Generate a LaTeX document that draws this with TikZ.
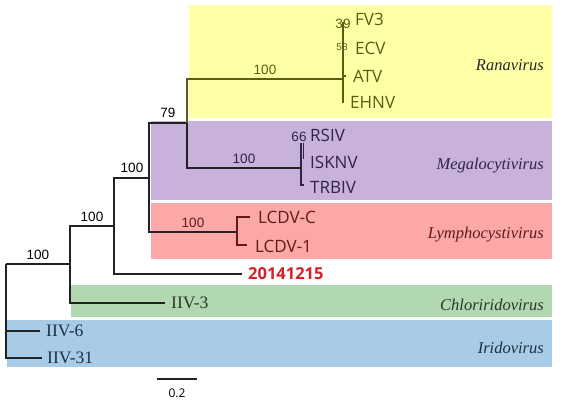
\documentclass[tikz,border=0pt]{standalone}
\usepackage{fontspec}
\setmainfont{Liberation Serif}
\newfontfamily\labfont{Open Sans}
\newfontfamily\numfont{Liberation Sans}
\definecolor{ybg}{RGB}{255,255,166}
\definecolor{pbg}{RGB}{200,178,220}
\definecolor{rbg}{RGB}{252,168,168}
\definecolor{gbg}{RGB}{178,216,178}
\definecolor{bbg}{RGB}{168,204,232}
\definecolor{yfg}{RGB}{92,92,20}
\definecolor{pfg}{RGB}{48,34,72}
\definecolor{rfg}{RGB}{100,24,24}
\definecolor{gfg}{RGB}{40,56,40}
\definecolor{bfg}{RGB}{30,46,66}
\definecolor{hl}{RGB}{212,32,40}
\definecolor{tr}{RGB}{34,34,34}
\begin{document}
\begin{tikzpicture}[x=1pt,y=-1pt,
  tree/.style={line width=1.2pt, draw=tr},
  leaf/.style={anchor=west, inner sep=0pt, font=\labfont\fontsize{17}{19}\selectfont},
  boot/.style={inner sep=0pt, font=\numfont\fontsize{13.5}{15}\selectfont},
  smallboot/.style={inner sep=0pt, font=\numfont\fontsize{10}{12}\selectfont},
  genus/.style={anchor=east, inner sep=0pt, font=\itshape\fontsize{16.5}{18}\selectfont},
  iiv/.style={anchor=west, inner sep=0pt, font=\fontsize{17.5}{19}\selectfont}]
\useasboundingbox (0,0) rectangle (563,400);
\fill[white] (0,0) rectangle (563,400);
% clade bands
\fill[ybg] (189,5) rectangle (552,118);
\fill[pbg] (151,121) rectangle (552,200);
\fill[rbg] (151,203) rectangle (552,259);
\fill[gbg] (71,285) rectangle (552,317);
\fill[bbg] (7,320) rectangle (552,367);
% internal nodes
\coordinate (R) at (6,264);
\coordinate (n1) at (70,264);
\coordinate (n2) at (114,226);
\coordinate (n3) at (149,178);
\coordinate (n4) at (187,123);
\coordinate (n6) at (343,79);
\coordinate (n7) at (301,168);
\coordinate (n5) at (237,232);
% leaf ends
\coordinate (e6) at (40,331);
\coordinate (e31) at (42,358);
\coordinate (e3) at (165,303);
\coordinate (eX) at (242,274);
\coordinate (eLC) at (250,217);
\coordinate (eL1) at (247,245);
\coordinate (eFV) at (343,22);
\coordinate (eEH) at (343,103);
\coordinate (eAT) at (346,76);
\coordinate (eRS) at (301,143);
\coordinate (eRS2) at (303,143);
\coordinate (eIS2) at (303,159);
\coordinate (eTR) at (304,185);
% branches
\draw[tree] (R) -- (n1);
\draw[tree] (R) |- (e31);
\draw[tree] (R) |- (e6);
\draw[tree] (n1) |- (n2);
\draw[tree] (n1) |- (e3);
\draw[tree] (n2) |- (n3);
\draw[tree] (n2) |- (eX);
\draw[tree] (n3) |- (n4);
\draw[tree] (n3) |- (n5);
\draw[tree] (n4) |- (n7);
\draw[tree, draw=yfg] (n4) |- (n6);
\draw[tree, draw=yfg] (eFV) -- (eEH);
\draw[tree, draw=yfg] (n6 |- eAT) -- (eAT);
\draw[tree, draw=pfg] (n7) -- (eRS);
\draw[tree, draw=pfg] (n7) |- (eTR);
\draw[tree, draw=pfg, line width=0.9pt] (eRS2) -- (eIS2);
\draw[tree, draw=rfg] (n5) |- (eLC);
\draw[tree, draw=rfg] (n5) |- (eL1);
% leaf labels
\node[leaf, text=yfg] (FV3) at (355,19) {FV3};
\node[leaf, text=yfg] (ECV) at (355,48) {ECV};
\node[leaf, text=yfg] (ATV) at (353,76) {ATV};
\node[leaf, text=yfg] (EHNV) at (350,102) {EHNV};
\node[leaf, text=pfg] (RSIV) at (310,135) {RSIV};
\node[leaf, text=pfg] (ISKNV) at (310,162) {ISKNV};
\node[leaf, text=pfg] (TRBIV) at (310,187) {TRBIV};
\node[leaf, text=rfg] (LCDVC) at (258,217) {LCDV-C};
\node[leaf, text=rfg] (LCDV1) at (255,246) {LCDV-1};
\node[leaf, text=hl, font=\labfont\bfseries\fontsize{16.5}{18}\selectfont] (X) at (248,274) {20141215};
\node[iiv, text=gfg] (IIV3) at (171,303) {IIV-3};
\node[iiv, text=bfg] (IIV6) at (46,331) {IIV-6};
\node[iiv, text=bfg] (IIV31) at (47,358) {IIV-31};
% bootstrap values
\node[boot] (b1) at (38,255) {100};
\node[boot] (b2) at (92,217) {100};
\node[boot] (b3) at (132,168) {100};
\node[boot] (b4) at (168,113) {79};
\node[boot, text=yfg] (b5) at (265,70) {100};
\node[boot, text=pfg] (b6) at (244,159) {100};
\node[boot, text=rfg] (b7) at (193,223) {100};
\node[boot, text=yfg] (b8) at (343,24) {39};
\node[smallboot, text=yfg] (b9) at (342,47) {58};
\node[boot, text=pfg] (b10) at (299,137) {66};
% genus labels
\node[genus, text=black!85] (g1) at (544,65) {Ranavirus};
\node[genus, text=pfg] (g2) at (544,166) {Megalocytivirus};
\node[genus, text=rfg] (g3) at (544,235) {Lymphocystivirus};
\node[genus, text=gfg] (g4) at (544,305) {Chloriridovirus};
\node[genus, text=bfg] (g5) at (544,348) {Iridovirus};
% scale bar
\coordinate (s1) at (157,379);
\coordinate (s2) at (197,379);
\draw[tree] (s1) -- (s2);
\node[inner sep=0pt, font=\labfont\fontsize{12}{13}\selectfont] (sl) at (177,393) {0.2};
\end{tikzpicture}
\end{document}
